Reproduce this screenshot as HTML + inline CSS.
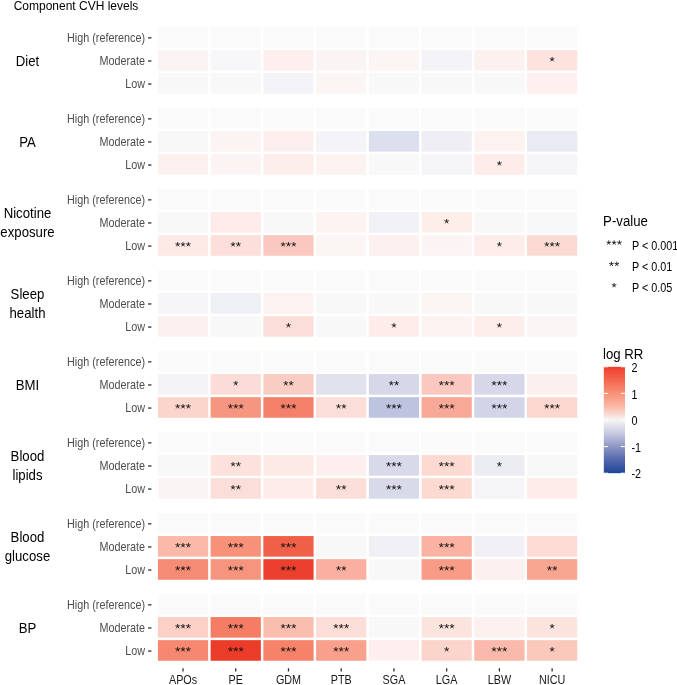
<!DOCTYPE html><html><head><meta charset="utf-8"><style>html,body{margin:0;padding:0;background:#fff;width:677px;height:685px;overflow:hidden}svg{display:block;filter:blur(0.4px)}</style></head><body>
<svg width="677" height="685" viewBox="0 0 677 685" font-family='"Liberation Sans", sans-serif'>
<rect width="677" height="685" fill="#fff"/>
<defs><linearGradient id="cb" x1="0" y1="0" x2="0" y2="1">
<stop offset="0" stop-color="#ef3e2c"/>
<stop offset="0.125" stop-color="#f4674f"/>
<stop offset="0.25" stop-color="#f89077"/>
<stop offset="0.375" stop-color="#fbb9a6"/>
<stop offset="0.5" stop-color="#f7f5f5"/>
<stop offset="0.625" stop-color="#c7c9e1"/>
<stop offset="0.75" stop-color="#8d97c4"/>
<stop offset="0.875" stop-color="#5467ac"/>
<stop offset="1" stop-color="#1c4596"/>
</linearGradient></defs>
<text transform="translate(13.70 9.70) scale(1 1.030)" font-size="12" fill="#000">Component CVH levels</text>
<g>
<rect x="157.90" y="26.95" width="50.23" height="20.60" fill="#fafafa"/>
<rect x="210.63" y="26.95" width="50.23" height="20.60" fill="#fafafa"/>
<rect x="263.36" y="26.95" width="50.23" height="20.60" fill="#fafafa"/>
<rect x="316.09" y="26.95" width="50.23" height="20.60" fill="#fafafa"/>
<rect x="368.82" y="26.95" width="50.23" height="20.60" fill="#fafafa"/>
<rect x="421.55" y="26.95" width="50.23" height="20.60" fill="#fafafa"/>
<rect x="474.28" y="26.95" width="50.23" height="20.60" fill="#fafafa"/>
<rect x="527.01" y="26.95" width="50.23" height="20.60" fill="#fafafa"/>
<rect x="157.90" y="50.05" width="50.23" height="20.60" fill="#fbf3f3"/>
<rect x="210.63" y="50.05" width="50.23" height="20.60" fill="#f7f7f9"/>
<rect x="263.36" y="50.05" width="50.23" height="20.60" fill="#fdefee"/>
<rect x="316.09" y="50.05" width="50.23" height="20.60" fill="#fbf4f4"/>
<rect x="368.82" y="50.05" width="50.23" height="20.60" fill="#fbf5f4"/>
<rect x="421.55" y="50.05" width="50.23" height="20.60" fill="#f4f4f8"/>
<rect x="474.28" y="50.05" width="50.23" height="20.60" fill="#fcf1ef"/>
<rect x="527.01" y="50.05" width="50.23" height="20.60" fill="#fde2de"/>
<rect x="157.90" y="73.15" width="50.23" height="20.60" fill="#f8f8f8"/>
<rect x="210.63" y="73.15" width="50.23" height="20.60" fill="#f8f8f8"/>
<rect x="263.36" y="73.15" width="50.23" height="20.60" fill="#f3f3f8"/>
<rect x="316.09" y="73.15" width="50.23" height="20.60" fill="#fbf6f4"/>
<rect x="368.82" y="73.15" width="50.23" height="20.60" fill="#f8f8f8"/>
<rect x="421.55" y="73.15" width="50.23" height="20.60" fill="#f8f8f8"/>
<rect x="474.28" y="73.15" width="50.23" height="20.60" fill="#f8f8f8"/>
<rect x="527.01" y="73.15" width="50.23" height="20.60" fill="#fdf0ef"/>
<rect x="157.90" y="107.95" width="50.23" height="20.60" fill="#fafafa"/>
<rect x="210.63" y="107.95" width="50.23" height="20.60" fill="#fafafa"/>
<rect x="263.36" y="107.95" width="50.23" height="20.60" fill="#fafafa"/>
<rect x="316.09" y="107.95" width="50.23" height="20.60" fill="#fafafa"/>
<rect x="368.82" y="107.95" width="50.23" height="20.60" fill="#fafafa"/>
<rect x="421.55" y="107.95" width="50.23" height="20.60" fill="#fafafa"/>
<rect x="474.28" y="107.95" width="50.23" height="20.60" fill="#fafafa"/>
<rect x="527.01" y="107.95" width="50.23" height="20.60" fill="#fafafa"/>
<rect x="157.90" y="131.05" width="50.23" height="20.60" fill="#f8f8f8"/>
<rect x="210.63" y="131.05" width="50.23" height="20.60" fill="#fbf4f3"/>
<rect x="263.36" y="131.05" width="50.23" height="20.60" fill="#fdefee"/>
<rect x="316.09" y="131.05" width="50.23" height="20.60" fill="#f3f3f8"/>
<rect x="368.82" y="131.05" width="50.23" height="20.60" fill="#dce0ee"/>
<rect x="421.55" y="131.05" width="50.23" height="20.60" fill="#eeeef4"/>
<rect x="474.28" y="131.05" width="50.23" height="20.60" fill="#fcf3f0"/>
<rect x="527.01" y="131.05" width="50.23" height="20.60" fill="#eaeaf4"/>
<rect x="157.90" y="154.15" width="50.23" height="20.60" fill="#fdf1ef"/>
<rect x="210.63" y="154.15" width="50.23" height="20.60" fill="#fbf4f3"/>
<rect x="263.36" y="154.15" width="50.23" height="20.60" fill="#fdeeec"/>
<rect x="316.09" y="154.15" width="50.23" height="20.60" fill="#fcf3f1"/>
<rect x="368.82" y="154.15" width="50.23" height="20.60" fill="#f8f8f8"/>
<rect x="421.55" y="154.15" width="50.23" height="20.60" fill="#f5f5f7"/>
<rect x="474.28" y="154.15" width="50.23" height="20.60" fill="#fdecea"/>
<rect x="527.01" y="154.15" width="50.23" height="20.60" fill="#f5f5f8"/>
<rect x="157.90" y="188.95" width="50.23" height="20.60" fill="#fafafa"/>
<rect x="210.63" y="188.95" width="50.23" height="20.60" fill="#fafafa"/>
<rect x="263.36" y="188.95" width="50.23" height="20.60" fill="#fafafa"/>
<rect x="316.09" y="188.95" width="50.23" height="20.60" fill="#fafafa"/>
<rect x="368.82" y="188.95" width="50.23" height="20.60" fill="#fafafa"/>
<rect x="421.55" y="188.95" width="50.23" height="20.60" fill="#fafafa"/>
<rect x="474.28" y="188.95" width="50.23" height="20.60" fill="#fafafa"/>
<rect x="527.01" y="188.95" width="50.23" height="20.60" fill="#fafafa"/>
<rect x="157.90" y="212.05" width="50.23" height="20.60" fill="#f8f8f8"/>
<rect x="210.63" y="212.05" width="50.23" height="20.60" fill="#fdeae9"/>
<rect x="263.36" y="212.05" width="50.23" height="20.60" fill="#f8f8f8"/>
<rect x="316.09" y="212.05" width="50.23" height="20.60" fill="#fdf3f1"/>
<rect x="368.82" y="212.05" width="50.23" height="20.60" fill="#f1f1f6"/>
<rect x="421.55" y="212.05" width="50.23" height="20.60" fill="#fdeeea"/>
<rect x="474.28" y="212.05" width="50.23" height="20.60" fill="#f8f8f8"/>
<rect x="527.01" y="212.05" width="50.23" height="20.60" fill="#f8f8f8"/>
<rect x="157.90" y="235.15" width="50.23" height="20.60" fill="#fde9e6"/>
<rect x="210.63" y="235.15" width="50.23" height="20.60" fill="#fcdeda"/>
<rect x="263.36" y="235.15" width="50.23" height="20.60" fill="#fac8be"/>
<rect x="316.09" y="235.15" width="50.23" height="20.60" fill="#fbf5f4"/>
<rect x="368.82" y="235.15" width="50.23" height="20.60" fill="#fcf1ef"/>
<rect x="421.55" y="235.15" width="50.23" height="20.60" fill="#fcf4f4"/>
<rect x="474.28" y="235.15" width="50.23" height="20.60" fill="#fdecea"/>
<rect x="527.01" y="235.15" width="50.23" height="20.60" fill="#fcdad4"/>
<rect x="157.90" y="269.95" width="50.23" height="20.60" fill="#fafafa"/>
<rect x="210.63" y="269.95" width="50.23" height="20.60" fill="#fafafa"/>
<rect x="263.36" y="269.95" width="50.23" height="20.60" fill="#fafafa"/>
<rect x="316.09" y="269.95" width="50.23" height="20.60" fill="#fafafa"/>
<rect x="368.82" y="269.95" width="50.23" height="20.60" fill="#fafafa"/>
<rect x="421.55" y="269.95" width="50.23" height="20.60" fill="#fafafa"/>
<rect x="474.28" y="269.95" width="50.23" height="20.60" fill="#fafafa"/>
<rect x="527.01" y="269.95" width="50.23" height="20.60" fill="#fafafa"/>
<rect x="157.90" y="293.05" width="50.23" height="20.60" fill="#f6f6f8"/>
<rect x="210.63" y="293.05" width="50.23" height="20.60" fill="#efeff6"/>
<rect x="263.36" y="293.05" width="50.23" height="20.60" fill="#fcf3f1"/>
<rect x="316.09" y="293.05" width="50.23" height="20.60" fill="#f8f8f8"/>
<rect x="368.82" y="293.05" width="50.23" height="20.60" fill="#f8f8f8"/>
<rect x="421.55" y="293.05" width="50.23" height="20.60" fill="#fbf5f4"/>
<rect x="474.28" y="293.05" width="50.23" height="20.60" fill="#f9f8f8"/>
<rect x="527.01" y="293.05" width="50.23" height="20.60" fill="#f8f8f8"/>
<rect x="157.90" y="316.15" width="50.23" height="20.60" fill="#fcf1ef"/>
<rect x="210.63" y="316.15" width="50.23" height="20.60" fill="#f8f8f8"/>
<rect x="263.36" y="316.15" width="50.23" height="20.60" fill="#fcded8"/>
<rect x="316.09" y="316.15" width="50.23" height="20.60" fill="#f8f8f8"/>
<rect x="368.82" y="316.15" width="50.23" height="20.60" fill="#fdecea"/>
<rect x="421.55" y="316.15" width="50.23" height="20.60" fill="#fcf3f1"/>
<rect x="474.28" y="316.15" width="50.23" height="20.60" fill="#fdeeec"/>
<rect x="527.01" y="316.15" width="50.23" height="20.60" fill="#faf6f5"/>
<rect x="157.90" y="350.95" width="50.23" height="20.60" fill="#fafafa"/>
<rect x="210.63" y="350.95" width="50.23" height="20.60" fill="#fafafa"/>
<rect x="263.36" y="350.95" width="50.23" height="20.60" fill="#fafafa"/>
<rect x="316.09" y="350.95" width="50.23" height="20.60" fill="#fafafa"/>
<rect x="368.82" y="350.95" width="50.23" height="20.60" fill="#fafafa"/>
<rect x="421.55" y="350.95" width="50.23" height="20.60" fill="#fafafa"/>
<rect x="474.28" y="350.95" width="50.23" height="20.60" fill="#fafafa"/>
<rect x="527.01" y="350.95" width="50.23" height="20.60" fill="#fafafa"/>
<rect x="157.90" y="374.05" width="50.23" height="20.60" fill="#f4f4f7"/>
<rect x="210.63" y="374.05" width="50.23" height="20.60" fill="#fcdcd6"/>
<rect x="263.36" y="374.05" width="50.23" height="20.60" fill="#facdc3"/>
<rect x="316.09" y="374.05" width="50.23" height="20.60" fill="#e0e2ee"/>
<rect x="368.82" y="374.05" width="50.23" height="20.60" fill="#d6d8ea"/>
<rect x="421.55" y="374.05" width="50.23" height="20.60" fill="#fac8be"/>
<rect x="474.28" y="374.05" width="50.23" height="20.60" fill="#d6d8ea"/>
<rect x="527.01" y="374.05" width="50.23" height="20.60" fill="#fcf0ee"/>
<rect x="157.90" y="397.15" width="50.23" height="20.60" fill="#fbd4cb"/>
<rect x="210.63" y="397.15" width="50.23" height="20.60" fill="#f79680"/>
<rect x="263.36" y="397.15" width="50.23" height="20.60" fill="#f58069"/>
<rect x="316.09" y="397.15" width="50.23" height="20.60" fill="#fcded8"/>
<rect x="368.82" y="397.15" width="50.23" height="20.60" fill="#bec3e0"/>
<rect x="421.55" y="397.15" width="50.23" height="20.60" fill="#f8a896"/>
<rect x="474.28" y="397.15" width="50.23" height="20.60" fill="#d2d5e8"/>
<rect x="527.01" y="397.15" width="50.23" height="20.60" fill="#fcd7d0"/>
<rect x="157.90" y="431.95" width="50.23" height="20.60" fill="#fafafa"/>
<rect x="210.63" y="431.95" width="50.23" height="20.60" fill="#fafafa"/>
<rect x="263.36" y="431.95" width="50.23" height="20.60" fill="#fafafa"/>
<rect x="316.09" y="431.95" width="50.23" height="20.60" fill="#fafafa"/>
<rect x="368.82" y="431.95" width="50.23" height="20.60" fill="#fafafa"/>
<rect x="421.55" y="431.95" width="50.23" height="20.60" fill="#fafafa"/>
<rect x="474.28" y="431.95" width="50.23" height="20.60" fill="#fafafa"/>
<rect x="527.01" y="431.95" width="50.23" height="20.60" fill="#fafafa"/>
<rect x="157.90" y="455.05" width="50.23" height="20.60" fill="#f8f8f8"/>
<rect x="210.63" y="455.05" width="50.23" height="20.60" fill="#fce1dc"/>
<rect x="263.36" y="455.05" width="50.23" height="20.60" fill="#fdeae7"/>
<rect x="316.09" y="455.05" width="50.23" height="20.60" fill="#fdefed"/>
<rect x="368.82" y="455.05" width="50.23" height="20.60" fill="#d8daea"/>
<rect x="421.55" y="455.05" width="50.23" height="20.60" fill="#fcdad2"/>
<rect x="474.28" y="455.05" width="50.23" height="20.60" fill="#ececf3"/>
<rect x="527.01" y="455.05" width="50.23" height="20.60" fill="#f8f8f8"/>
<rect x="157.90" y="478.15" width="50.23" height="20.60" fill="#fbf4f4"/>
<rect x="210.63" y="478.15" width="50.23" height="20.60" fill="#fcded8"/>
<rect x="263.36" y="478.15" width="50.23" height="20.60" fill="#fdece9"/>
<rect x="316.09" y="478.15" width="50.23" height="20.60" fill="#fcded8"/>
<rect x="368.82" y="478.15" width="50.23" height="20.60" fill="#d8daea"/>
<rect x="421.55" y="478.15" width="50.23" height="20.60" fill="#fcdad2"/>
<rect x="474.28" y="478.15" width="50.23" height="20.60" fill="#f5f5f7"/>
<rect x="527.01" y="478.15" width="50.23" height="20.60" fill="#fdecea"/>
<rect x="157.90" y="512.95" width="50.23" height="20.60" fill="#fafafa"/>
<rect x="210.63" y="512.95" width="50.23" height="20.60" fill="#fafafa"/>
<rect x="263.36" y="512.95" width="50.23" height="20.60" fill="#fafafa"/>
<rect x="316.09" y="512.95" width="50.23" height="20.60" fill="#fafafa"/>
<rect x="368.82" y="512.95" width="50.23" height="20.60" fill="#fafafa"/>
<rect x="421.55" y="512.95" width="50.23" height="20.60" fill="#fafafa"/>
<rect x="474.28" y="512.95" width="50.23" height="20.60" fill="#fafafa"/>
<rect x="527.01" y="512.95" width="50.23" height="20.60" fill="#fafafa"/>
<rect x="157.90" y="536.05" width="50.23" height="20.60" fill="#fbb9aa"/>
<rect x="210.63" y="536.05" width="50.23" height="20.60" fill="#f7917a"/>
<rect x="263.36" y="536.05" width="50.23" height="20.60" fill="#f05f48"/>
<rect x="316.09" y="536.05" width="50.23" height="20.60" fill="#f9f8f8"/>
<rect x="368.82" y="536.05" width="50.23" height="20.60" fill="#efeff4"/>
<rect x="421.55" y="536.05" width="50.23" height="20.60" fill="#fab2a2"/>
<rect x="474.28" y="536.05" width="50.23" height="20.60" fill="#f1f1f5"/>
<rect x="527.01" y="536.05" width="50.23" height="20.60" fill="#fcdcd4"/>
<rect x="157.90" y="559.15" width="50.23" height="20.60" fill="#f68c76"/>
<rect x="210.63" y="559.15" width="50.23" height="20.60" fill="#f7947e"/>
<rect x="263.36" y="559.15" width="50.23" height="20.60" fill="#ec402e"/>
<rect x="316.09" y="559.15" width="50.23" height="20.60" fill="#faafa0"/>
<rect x="368.82" y="559.15" width="50.23" height="20.60" fill="#f8f8f8"/>
<rect x="421.55" y="559.15" width="50.23" height="20.60" fill="#f89b87"/>
<rect x="474.28" y="559.15" width="50.23" height="20.60" fill="#fcf1ef"/>
<rect x="527.01" y="559.15" width="50.23" height="20.60" fill="#f8a591"/>
<rect x="157.90" y="593.95" width="50.23" height="20.60" fill="#fafafa"/>
<rect x="210.63" y="593.95" width="50.23" height="20.60" fill="#fafafa"/>
<rect x="263.36" y="593.95" width="50.23" height="20.60" fill="#fafafa"/>
<rect x="316.09" y="593.95" width="50.23" height="20.60" fill="#fafafa"/>
<rect x="368.82" y="593.95" width="50.23" height="20.60" fill="#fafafa"/>
<rect x="421.55" y="593.95" width="50.23" height="20.60" fill="#fafafa"/>
<rect x="474.28" y="593.95" width="50.23" height="20.60" fill="#fafafa"/>
<rect x="527.01" y="593.95" width="50.23" height="20.60" fill="#fafafa"/>
<rect x="157.90" y="617.05" width="50.23" height="20.60" fill="#fcd0c6"/>
<rect x="210.63" y="617.05" width="50.23" height="20.60" fill="#f57d64"/>
<rect x="263.36" y="617.05" width="50.23" height="20.60" fill="#fabeaf"/>
<rect x="316.09" y="617.05" width="50.23" height="20.60" fill="#fcded8"/>
<rect x="368.82" y="617.05" width="50.23" height="20.60" fill="#f8f8f8"/>
<rect x="421.55" y="617.05" width="50.23" height="20.60" fill="#fce4de"/>
<rect x="474.28" y="617.05" width="50.23" height="20.60" fill="#fcf1ef"/>
<rect x="527.01" y="617.05" width="50.23" height="20.60" fill="#fce4de"/>
<rect x="157.90" y="640.15" width="50.23" height="20.60" fill="#f68770"/>
<rect x="210.63" y="640.15" width="50.23" height="20.60" fill="#eb3c2a"/>
<rect x="263.36" y="640.15" width="50.23" height="20.60" fill="#f58269"/>
<rect x="316.09" y="640.15" width="50.23" height="20.60" fill="#f8a08c"/>
<rect x="368.82" y="640.15" width="50.23" height="20.60" fill="#fcefee"/>
<rect x="421.55" y="640.15" width="50.23" height="20.60" fill="#fbd4cc"/>
<rect x="474.28" y="640.15" width="50.23" height="20.60" fill="#fab9aa"/>
<rect x="527.01" y="640.15" width="50.23" height="20.60" fill="#fbc8bc"/>
</g>
<g fill="none" stroke="#111" stroke-width="0.88" stroke-linecap="butt">
<path d="M552.12 59.35L552.12 57.00M552.12 59.35L554.36 58.62M552.12 59.35L553.51 61.25M552.12 59.35L550.74 61.25M552.12 59.35L549.89 58.62"/>
<path d="M499.39 163.45L499.39 161.10M499.39 163.45L501.63 162.72M499.39 163.45L500.78 165.35M499.39 163.45L498.01 165.35M499.39 163.45L497.16 162.72"/>
<path d="M446.66 221.35L446.66 219.00M446.66 221.35L448.90 220.62M446.66 221.35L448.05 223.25M446.66 221.35L445.28 223.25M446.66 221.35L444.43 220.62"/>
<path d="M177.67 244.45L177.67 242.10M177.67 244.45L179.90 243.72M177.67 244.45L179.05 246.35M177.67 244.45L176.28 246.35M177.67 244.45L175.43 243.72"/><path d="M183.02 244.45L183.02 242.10M183.02 244.45L185.25 243.72M183.02 244.45L184.40 246.35M183.02 244.45L181.63 246.35M183.02 244.45L180.78 243.72"/><path d="M188.37 244.45L188.37 242.10M188.37 244.45L190.60 243.72M188.37 244.45L189.75 246.35M188.37 244.45L186.98 246.35M188.37 244.45L186.13 243.72"/>
<path d="M233.07 244.45L233.07 242.10M233.07 244.45L235.30 243.72M233.07 244.45L234.45 246.35M233.07 244.45L231.69 246.35M233.07 244.45L230.84 243.72"/><path d="M238.42 244.45L238.42 242.10M238.42 244.45L240.65 243.72M238.42 244.45L239.80 246.35M238.42 244.45L237.04 246.35M238.42 244.45L236.19 243.72"/>
<path d="M283.12 244.45L283.12 242.10M283.12 244.45L285.36 243.72M283.12 244.45L284.51 246.35M283.12 244.45L281.74 246.35M283.12 244.45L280.89 243.72"/><path d="M288.48 244.45L288.48 242.10M288.48 244.45L290.71 243.72M288.48 244.45L289.86 246.35M288.48 244.45L287.09 246.35M288.48 244.45L286.24 243.72"/><path d="M293.82 244.45L293.82 242.10M293.82 244.45L296.06 243.72M293.82 244.45L295.21 246.35M293.82 244.45L292.44 246.35M293.82 244.45L291.59 243.72"/>
<path d="M499.39 244.45L499.39 242.10M499.39 244.45L501.63 243.72M499.39 244.45L500.78 246.35M499.39 244.45L498.01 246.35M499.39 244.45L497.16 243.72"/>
<path d="M546.77 244.45L546.77 242.10M546.77 244.45L549.01 243.72M546.77 244.45L548.16 246.35M546.77 244.45L545.39 246.35M546.77 244.45L544.54 243.72"/><path d="M552.12 244.45L552.12 242.10M552.12 244.45L554.36 243.72M552.12 244.45L553.51 246.35M552.12 244.45L550.74 246.35M552.12 244.45L549.89 243.72"/><path d="M557.48 244.45L557.48 242.10M557.48 244.45L559.71 243.72M557.48 244.45L558.86 246.35M557.48 244.45L556.09 246.35M557.48 244.45L555.24 243.72"/>
<path d="M288.48 325.45L288.48 323.10M288.48 325.45L290.71 324.72M288.48 325.45L289.86 327.35M288.48 325.45L287.09 327.35M288.48 325.45L286.24 324.72"/>
<path d="M393.94 325.45L393.94 323.10M393.94 325.45L396.17 324.72M393.94 325.45L395.32 327.35M393.94 325.45L392.55 327.35M393.94 325.45L391.70 324.72"/>
<path d="M499.39 325.45L499.39 323.10M499.39 325.45L501.63 324.72M499.39 325.45L500.78 327.35M499.39 325.45L498.01 327.35M499.39 325.45L497.16 324.72"/>
<path d="M235.75 383.35L235.75 381.00M235.75 383.35L237.98 382.62M235.75 383.35L237.13 385.25M235.75 383.35L234.36 385.25M235.75 383.35L233.51 382.62"/>
<path d="M285.80 383.35L285.80 381.00M285.80 383.35L288.03 382.62M285.80 383.35L287.18 385.25M285.80 383.35L284.42 385.25M285.80 383.35L283.57 382.62"/><path d="M291.15 383.35L291.15 381.00M291.15 383.35L293.38 382.62M291.15 383.35L292.53 385.25M291.15 383.35L289.77 385.25M291.15 383.35L288.92 382.62"/>
<path d="M391.26 383.35L391.26 381.00M391.26 383.35L393.49 382.62M391.26 383.35L392.64 385.25M391.26 383.35L389.88 385.25M391.26 383.35L389.03 382.62"/><path d="M396.61 383.35L396.61 381.00M396.61 383.35L398.84 382.62M396.61 383.35L397.99 385.25M396.61 383.35L395.23 385.25M396.61 383.35L394.38 382.62"/>
<path d="M441.31 383.35L441.31 381.00M441.31 383.35L443.55 382.62M441.31 383.35L442.70 385.25M441.31 383.35L439.93 385.25M441.31 383.35L439.08 382.62"/><path d="M446.66 383.35L446.66 381.00M446.66 383.35L448.90 382.62M446.66 383.35L448.05 385.25M446.66 383.35L445.28 385.25M446.66 383.35L444.43 382.62"/><path d="M452.01 383.35L452.01 381.00M452.01 383.35L454.25 382.62M452.01 383.35L453.40 385.25M452.01 383.35L450.63 385.25M452.01 383.35L449.78 382.62"/>
<path d="M494.04 383.35L494.04 381.00M494.04 383.35L496.28 382.62M494.04 383.35L495.43 385.25M494.04 383.35L492.66 385.25M494.04 383.35L491.81 382.62"/><path d="M499.39 383.35L499.39 381.00M499.39 383.35L501.63 382.62M499.39 383.35L500.78 385.25M499.39 383.35L498.01 385.25M499.39 383.35L497.16 382.62"/><path d="M504.74 383.35L504.74 381.00M504.74 383.35L506.98 382.62M504.74 383.35L506.13 385.25M504.74 383.35L503.36 385.25M504.74 383.35L502.51 382.62"/>
<path d="M177.67 406.45L177.67 404.10M177.67 406.45L179.90 405.72M177.67 406.45L179.05 408.35M177.67 406.45L176.28 408.35M177.67 406.45L175.43 405.72"/><path d="M183.02 406.45L183.02 404.10M183.02 406.45L185.25 405.72M183.02 406.45L184.40 408.35M183.02 406.45L181.63 408.35M183.02 406.45L180.78 405.72"/><path d="M188.37 406.45L188.37 404.10M188.37 406.45L190.60 405.72M188.37 406.45L189.75 408.35M188.37 406.45L186.98 408.35M188.37 406.45L186.13 405.72"/>
<path d="M230.40 406.45L230.40 404.10M230.40 406.45L232.63 405.72M230.40 406.45L231.78 408.35M230.40 406.45L229.01 408.35M230.40 406.45L228.16 405.72"/><path d="M235.75 406.45L235.75 404.10M235.75 406.45L237.98 405.72M235.75 406.45L237.13 408.35M235.75 406.45L234.36 408.35M235.75 406.45L233.51 405.72"/><path d="M241.09 406.45L241.09 404.10M241.09 406.45L243.33 405.72M241.09 406.45L242.48 408.35M241.09 406.45L239.71 408.35M241.09 406.45L238.86 405.72"/>
<path d="M283.12 406.45L283.12 404.10M283.12 406.45L285.36 405.72M283.12 406.45L284.51 408.35M283.12 406.45L281.74 408.35M283.12 406.45L280.89 405.72"/><path d="M288.48 406.45L288.48 404.10M288.48 406.45L290.71 405.72M288.48 406.45L289.86 408.35M288.48 406.45L287.09 408.35M288.48 406.45L286.24 405.72"/><path d="M293.82 406.45L293.82 404.10M293.82 406.45L296.06 405.72M293.82 406.45L295.21 408.35M293.82 406.45L292.44 408.35M293.82 406.45L291.59 405.72"/>
<path d="M338.53 406.45L338.53 404.10M338.53 406.45L340.76 405.72M338.53 406.45L339.91 408.35M338.53 406.45L337.15 408.35M338.53 406.45L336.30 405.72"/><path d="M343.88 406.45L343.88 404.10M343.88 406.45L346.11 405.72M343.88 406.45L345.26 408.35M343.88 406.45L342.50 408.35M343.88 406.45L341.65 405.72"/>
<path d="M388.58 406.45L388.58 404.10M388.58 406.45L390.82 405.72M388.58 406.45L389.97 408.35M388.58 406.45L387.20 408.35M388.58 406.45L386.35 405.72"/><path d="M393.94 406.45L393.94 404.10M393.94 406.45L396.17 405.72M393.94 406.45L395.32 408.35M393.94 406.45L392.55 408.35M393.94 406.45L391.70 405.72"/><path d="M399.28 406.45L399.28 404.10M399.28 406.45L401.52 405.72M399.28 406.45L400.67 408.35M399.28 406.45L397.90 408.35M399.28 406.45L397.05 405.72"/>
<path d="M441.31 406.45L441.31 404.10M441.31 406.45L443.55 405.72M441.31 406.45L442.70 408.35M441.31 406.45L439.93 408.35M441.31 406.45L439.08 405.72"/><path d="M446.66 406.45L446.66 404.10M446.66 406.45L448.90 405.72M446.66 406.45L448.05 408.35M446.66 406.45L445.28 408.35M446.66 406.45L444.43 405.72"/><path d="M452.01 406.45L452.01 404.10M452.01 406.45L454.25 405.72M452.01 406.45L453.40 408.35M452.01 406.45L450.63 408.35M452.01 406.45L449.78 405.72"/>
<path d="M494.04 406.45L494.04 404.10M494.04 406.45L496.28 405.72M494.04 406.45L495.43 408.35M494.04 406.45L492.66 408.35M494.04 406.45L491.81 405.72"/><path d="M499.39 406.45L499.39 404.10M499.39 406.45L501.63 405.72M499.39 406.45L500.78 408.35M499.39 406.45L498.01 408.35M499.39 406.45L497.16 405.72"/><path d="M504.74 406.45L504.74 404.10M504.74 406.45L506.98 405.72M504.74 406.45L506.13 408.35M504.74 406.45L503.36 408.35M504.74 406.45L502.51 405.72"/>
<path d="M546.77 406.45L546.77 404.10M546.77 406.45L549.01 405.72M546.77 406.45L548.16 408.35M546.77 406.45L545.39 408.35M546.77 406.45L544.54 405.72"/><path d="M552.12 406.45L552.12 404.10M552.12 406.45L554.36 405.72M552.12 406.45L553.51 408.35M552.12 406.45L550.74 408.35M552.12 406.45L549.89 405.72"/><path d="M557.48 406.45L557.48 404.10M557.48 406.45L559.71 405.72M557.48 406.45L558.86 408.35M557.48 406.45L556.09 408.35M557.48 406.45L555.24 405.72"/>
<path d="M233.07 464.35L233.07 462.00M233.07 464.35L235.30 463.62M233.07 464.35L234.45 466.25M233.07 464.35L231.69 466.25M233.07 464.35L230.84 463.62"/><path d="M238.42 464.35L238.42 462.00M238.42 464.35L240.65 463.62M238.42 464.35L239.80 466.25M238.42 464.35L237.04 466.25M238.42 464.35L236.19 463.62"/>
<path d="M388.58 464.35L388.58 462.00M388.58 464.35L390.82 463.62M388.58 464.35L389.97 466.25M388.58 464.35L387.20 466.25M388.58 464.35L386.35 463.62"/><path d="M393.94 464.35L393.94 462.00M393.94 464.35L396.17 463.62M393.94 464.35L395.32 466.25M393.94 464.35L392.55 466.25M393.94 464.35L391.70 463.62"/><path d="M399.28 464.35L399.28 462.00M399.28 464.35L401.52 463.62M399.28 464.35L400.67 466.25M399.28 464.35L397.90 466.25M399.28 464.35L397.05 463.62"/>
<path d="M441.31 464.35L441.31 462.00M441.31 464.35L443.55 463.62M441.31 464.35L442.70 466.25M441.31 464.35L439.93 466.25M441.31 464.35L439.08 463.62"/><path d="M446.66 464.35L446.66 462.00M446.66 464.35L448.90 463.62M446.66 464.35L448.05 466.25M446.66 464.35L445.28 466.25M446.66 464.35L444.43 463.62"/><path d="M452.01 464.35L452.01 462.00M452.01 464.35L454.25 463.62M452.01 464.35L453.40 466.25M452.01 464.35L450.63 466.25M452.01 464.35L449.78 463.62"/>
<path d="M499.39 464.35L499.39 462.00M499.39 464.35L501.63 463.62M499.39 464.35L500.78 466.25M499.39 464.35L498.01 466.25M499.39 464.35L497.16 463.62"/>
<path d="M233.07 487.45L233.07 485.10M233.07 487.45L235.30 486.72M233.07 487.45L234.45 489.35M233.07 487.45L231.69 489.35M233.07 487.45L230.84 486.72"/><path d="M238.42 487.45L238.42 485.10M238.42 487.45L240.65 486.72M238.42 487.45L239.80 489.35M238.42 487.45L237.04 489.35M238.42 487.45L236.19 486.72"/>
<path d="M338.53 487.45L338.53 485.10M338.53 487.45L340.76 486.72M338.53 487.45L339.91 489.35M338.53 487.45L337.15 489.35M338.53 487.45L336.30 486.72"/><path d="M343.88 487.45L343.88 485.10M343.88 487.45L346.11 486.72M343.88 487.45L345.26 489.35M343.88 487.45L342.50 489.35M343.88 487.45L341.65 486.72"/>
<path d="M388.58 487.45L388.58 485.10M388.58 487.45L390.82 486.72M388.58 487.45L389.97 489.35M388.58 487.45L387.20 489.35M388.58 487.45L386.35 486.72"/><path d="M393.94 487.45L393.94 485.10M393.94 487.45L396.17 486.72M393.94 487.45L395.32 489.35M393.94 487.45L392.55 489.35M393.94 487.45L391.70 486.72"/><path d="M399.28 487.45L399.28 485.10M399.28 487.45L401.52 486.72M399.28 487.45L400.67 489.35M399.28 487.45L397.90 489.35M399.28 487.45L397.05 486.72"/>
<path d="M441.31 487.45L441.31 485.10M441.31 487.45L443.55 486.72M441.31 487.45L442.70 489.35M441.31 487.45L439.93 489.35M441.31 487.45L439.08 486.72"/><path d="M446.66 487.45L446.66 485.10M446.66 487.45L448.90 486.72M446.66 487.45L448.05 489.35M446.66 487.45L445.28 489.35M446.66 487.45L444.43 486.72"/><path d="M452.01 487.45L452.01 485.10M452.01 487.45L454.25 486.72M452.01 487.45L453.40 489.35M452.01 487.45L450.63 489.35M452.01 487.45L449.78 486.72"/>
<path d="M177.67 545.35L177.67 543.00M177.67 545.35L179.90 544.62M177.67 545.35L179.05 547.25M177.67 545.35L176.28 547.25M177.67 545.35L175.43 544.62"/><path d="M183.02 545.35L183.02 543.00M183.02 545.35L185.25 544.62M183.02 545.35L184.40 547.25M183.02 545.35L181.63 547.25M183.02 545.35L180.78 544.62"/><path d="M188.37 545.35L188.37 543.00M188.37 545.35L190.60 544.62M188.37 545.35L189.75 547.25M188.37 545.35L186.98 547.25M188.37 545.35L186.13 544.62"/>
<path d="M230.40 545.35L230.40 543.00M230.40 545.35L232.63 544.62M230.40 545.35L231.78 547.25M230.40 545.35L229.01 547.25M230.40 545.35L228.16 544.62"/><path d="M235.75 545.35L235.75 543.00M235.75 545.35L237.98 544.62M235.75 545.35L237.13 547.25M235.75 545.35L234.36 547.25M235.75 545.35L233.51 544.62"/><path d="M241.09 545.35L241.09 543.00M241.09 545.35L243.33 544.62M241.09 545.35L242.48 547.25M241.09 545.35L239.71 547.25M241.09 545.35L238.86 544.62"/>
<path d="M283.12 545.35L283.12 543.00M283.12 545.35L285.36 544.62M283.12 545.35L284.51 547.25M283.12 545.35L281.74 547.25M283.12 545.35L280.89 544.62"/><path d="M288.48 545.35L288.48 543.00M288.48 545.35L290.71 544.62M288.48 545.35L289.86 547.25M288.48 545.35L287.09 547.25M288.48 545.35L286.24 544.62"/><path d="M293.82 545.35L293.82 543.00M293.82 545.35L296.06 544.62M293.82 545.35L295.21 547.25M293.82 545.35L292.44 547.25M293.82 545.35L291.59 544.62"/>
<path d="M441.31 545.35L441.31 543.00M441.31 545.35L443.55 544.62M441.31 545.35L442.70 547.25M441.31 545.35L439.93 547.25M441.31 545.35L439.08 544.62"/><path d="M446.66 545.35L446.66 543.00M446.66 545.35L448.90 544.62M446.66 545.35L448.05 547.25M446.66 545.35L445.28 547.25M446.66 545.35L444.43 544.62"/><path d="M452.01 545.35L452.01 543.00M452.01 545.35L454.25 544.62M452.01 545.35L453.40 547.25M452.01 545.35L450.63 547.25M452.01 545.35L449.78 544.62"/>
<path d="M177.67 568.45L177.67 566.10M177.67 568.45L179.90 567.72M177.67 568.45L179.05 570.35M177.67 568.45L176.28 570.35M177.67 568.45L175.43 567.72"/><path d="M183.02 568.45L183.02 566.10M183.02 568.45L185.25 567.72M183.02 568.45L184.40 570.35M183.02 568.45L181.63 570.35M183.02 568.45L180.78 567.72"/><path d="M188.37 568.45L188.37 566.10M188.37 568.45L190.60 567.72M188.37 568.45L189.75 570.35M188.37 568.45L186.98 570.35M188.37 568.45L186.13 567.72"/>
<path d="M230.40 568.45L230.40 566.10M230.40 568.45L232.63 567.72M230.40 568.45L231.78 570.35M230.40 568.45L229.01 570.35M230.40 568.45L228.16 567.72"/><path d="M235.75 568.45L235.75 566.10M235.75 568.45L237.98 567.72M235.75 568.45L237.13 570.35M235.75 568.45L234.36 570.35M235.75 568.45L233.51 567.72"/><path d="M241.09 568.45L241.09 566.10M241.09 568.45L243.33 567.72M241.09 568.45L242.48 570.35M241.09 568.45L239.71 570.35M241.09 568.45L238.86 567.72"/>
<path d="M283.12 568.45L283.12 566.10M283.12 568.45L285.36 567.72M283.12 568.45L284.51 570.35M283.12 568.45L281.74 570.35M283.12 568.45L280.89 567.72"/><path d="M288.48 568.45L288.48 566.10M288.48 568.45L290.71 567.72M288.48 568.45L289.86 570.35M288.48 568.45L287.09 570.35M288.48 568.45L286.24 567.72"/><path d="M293.82 568.45L293.82 566.10M293.82 568.45L296.06 567.72M293.82 568.45L295.21 570.35M293.82 568.45L292.44 570.35M293.82 568.45L291.59 567.72"/>
<path d="M338.53 568.45L338.53 566.10M338.53 568.45L340.76 567.72M338.53 568.45L339.91 570.35M338.53 568.45L337.15 570.35M338.53 568.45L336.30 567.72"/><path d="M343.88 568.45L343.88 566.10M343.88 568.45L346.11 567.72M343.88 568.45L345.26 570.35M343.88 568.45L342.50 570.35M343.88 568.45L341.65 567.72"/>
<path d="M441.31 568.45L441.31 566.10M441.31 568.45L443.55 567.72M441.31 568.45L442.70 570.35M441.31 568.45L439.93 570.35M441.31 568.45L439.08 567.72"/><path d="M446.66 568.45L446.66 566.10M446.66 568.45L448.90 567.72M446.66 568.45L448.05 570.35M446.66 568.45L445.28 570.35M446.66 568.45L444.43 567.72"/><path d="M452.01 568.45L452.01 566.10M452.01 568.45L454.25 567.72M452.01 568.45L453.40 570.35M452.01 568.45L450.63 570.35M452.01 568.45L449.78 567.72"/>
<path d="M549.45 568.45L549.45 566.10M549.45 568.45L551.68 567.72M549.45 568.45L550.83 570.35M549.45 568.45L548.07 570.35M549.45 568.45L547.22 567.72"/><path d="M554.80 568.45L554.80 566.10M554.80 568.45L557.03 567.72M554.80 568.45L556.18 570.35M554.80 568.45L553.42 570.35M554.80 568.45L552.57 567.72"/>
<path d="M177.67 626.35L177.67 624.00M177.67 626.35L179.90 625.62M177.67 626.35L179.05 628.25M177.67 626.35L176.28 628.25M177.67 626.35L175.43 625.62"/><path d="M183.02 626.35L183.02 624.00M183.02 626.35L185.25 625.62M183.02 626.35L184.40 628.25M183.02 626.35L181.63 628.25M183.02 626.35L180.78 625.62"/><path d="M188.37 626.35L188.37 624.00M188.37 626.35L190.60 625.62M188.37 626.35L189.75 628.25M188.37 626.35L186.98 628.25M188.37 626.35L186.13 625.62"/>
<path d="M230.40 626.35L230.40 624.00M230.40 626.35L232.63 625.62M230.40 626.35L231.78 628.25M230.40 626.35L229.01 628.25M230.40 626.35L228.16 625.62"/><path d="M235.75 626.35L235.75 624.00M235.75 626.35L237.98 625.62M235.75 626.35L237.13 628.25M235.75 626.35L234.36 628.25M235.75 626.35L233.51 625.62"/><path d="M241.09 626.35L241.09 624.00M241.09 626.35L243.33 625.62M241.09 626.35L242.48 628.25M241.09 626.35L239.71 628.25M241.09 626.35L238.86 625.62"/>
<path d="M283.12 626.35L283.12 624.00M283.12 626.35L285.36 625.62M283.12 626.35L284.51 628.25M283.12 626.35L281.74 628.25M283.12 626.35L280.89 625.62"/><path d="M288.48 626.35L288.48 624.00M288.48 626.35L290.71 625.62M288.48 626.35L289.86 628.25M288.48 626.35L287.09 628.25M288.48 626.35L286.24 625.62"/><path d="M293.82 626.35L293.82 624.00M293.82 626.35L296.06 625.62M293.82 626.35L295.21 628.25M293.82 626.35L292.44 628.25M293.82 626.35L291.59 625.62"/>
<path d="M335.86 626.35L335.86 624.00M335.86 626.35L338.09 625.62M335.86 626.35L337.24 628.25M335.86 626.35L334.47 628.25M335.86 626.35L333.62 625.62"/><path d="M341.21 626.35L341.21 624.00M341.21 626.35L343.44 625.62M341.21 626.35L342.59 628.25M341.21 626.35L339.82 628.25M341.21 626.35L338.97 625.62"/><path d="M346.56 626.35L346.56 624.00M346.56 626.35L348.79 625.62M346.56 626.35L347.94 628.25M346.56 626.35L345.17 628.25M346.56 626.35L344.32 625.62"/>
<path d="M441.31 626.35L441.31 624.00M441.31 626.35L443.55 625.62M441.31 626.35L442.70 628.25M441.31 626.35L439.93 628.25M441.31 626.35L439.08 625.62"/><path d="M446.66 626.35L446.66 624.00M446.66 626.35L448.90 625.62M446.66 626.35L448.05 628.25M446.66 626.35L445.28 628.25M446.66 626.35L444.43 625.62"/><path d="M452.01 626.35L452.01 624.00M452.01 626.35L454.25 625.62M452.01 626.35L453.40 628.25M452.01 626.35L450.63 628.25M452.01 626.35L449.78 625.62"/>
<path d="M552.12 626.35L552.12 624.00M552.12 626.35L554.36 625.62M552.12 626.35L553.51 628.25M552.12 626.35L550.74 628.25M552.12 626.35L549.89 625.62"/>
<path d="M177.67 649.45L177.67 647.10M177.67 649.45L179.90 648.72M177.67 649.45L179.05 651.35M177.67 649.45L176.28 651.35M177.67 649.45L175.43 648.72"/><path d="M183.02 649.45L183.02 647.10M183.02 649.45L185.25 648.72M183.02 649.45L184.40 651.35M183.02 649.45L181.63 651.35M183.02 649.45L180.78 648.72"/><path d="M188.37 649.45L188.37 647.10M188.37 649.45L190.60 648.72M188.37 649.45L189.75 651.35M188.37 649.45L186.98 651.35M188.37 649.45L186.13 648.72"/>
<path d="M230.40 649.45L230.40 647.10M230.40 649.45L232.63 648.72M230.40 649.45L231.78 651.35M230.40 649.45L229.01 651.35M230.40 649.45L228.16 648.72"/><path d="M235.75 649.45L235.75 647.10M235.75 649.45L237.98 648.72M235.75 649.45L237.13 651.35M235.75 649.45L234.36 651.35M235.75 649.45L233.51 648.72"/><path d="M241.09 649.45L241.09 647.10M241.09 649.45L243.33 648.72M241.09 649.45L242.48 651.35M241.09 649.45L239.71 651.35M241.09 649.45L238.86 648.72"/>
<path d="M283.12 649.45L283.12 647.10M283.12 649.45L285.36 648.72M283.12 649.45L284.51 651.35M283.12 649.45L281.74 651.35M283.12 649.45L280.89 648.72"/><path d="M288.48 649.45L288.48 647.10M288.48 649.45L290.71 648.72M288.48 649.45L289.86 651.35M288.48 649.45L287.09 651.35M288.48 649.45L286.24 648.72"/><path d="M293.82 649.45L293.82 647.10M293.82 649.45L296.06 648.72M293.82 649.45L295.21 651.35M293.82 649.45L292.44 651.35M293.82 649.45L291.59 648.72"/>
<path d="M335.86 649.45L335.86 647.10M335.86 649.45L338.09 648.72M335.86 649.45L337.24 651.35M335.86 649.45L334.47 651.35M335.86 649.45L333.62 648.72"/><path d="M341.21 649.45L341.21 647.10M341.21 649.45L343.44 648.72M341.21 649.45L342.59 651.35M341.21 649.45L339.82 651.35M341.21 649.45L338.97 648.72"/><path d="M346.56 649.45L346.56 647.10M346.56 649.45L348.79 648.72M346.56 649.45L347.94 651.35M346.56 649.45L345.17 651.35M346.56 649.45L344.32 648.72"/>
<path d="M446.66 649.45L446.66 647.10M446.66 649.45L448.90 648.72M446.66 649.45L448.05 651.35M446.66 649.45L445.28 651.35M446.66 649.45L444.43 648.72"/>
<path d="M494.04 649.45L494.04 647.10M494.04 649.45L496.28 648.72M494.04 649.45L495.43 651.35M494.04 649.45L492.66 651.35M494.04 649.45L491.81 648.72"/><path d="M499.39 649.45L499.39 647.10M499.39 649.45L501.63 648.72M499.39 649.45L500.78 651.35M499.39 649.45L498.01 651.35M499.39 649.45L497.16 648.72"/><path d="M504.74 649.45L504.74 647.10M504.74 649.45L506.98 648.72M504.74 649.45L506.13 651.35M504.74 649.45L503.36 651.35M504.74 649.45L502.51 648.72"/>
<path d="M552.12 649.45L552.12 647.10M552.12 649.45L554.36 648.72M552.12 649.45L553.51 651.35M552.12 649.45L550.74 651.35M552.12 649.45L549.89 648.72"/>
</g>
<g font-size="10.8" fill="#4d4d4d" text-anchor="end">
<text transform="translate(145.00 41.55) scale(1 1.120)">High (reference)</text>
<text transform="translate(145.00 64.65) scale(1 1.120)">Moderate</text>
<text transform="translate(145.00 87.75) scale(1 1.120)">Low</text>
<text transform="translate(145.00 122.55) scale(1 1.120)">High (reference)</text>
<text transform="translate(145.00 145.65) scale(1 1.120)">Moderate</text>
<text transform="translate(145.00 168.75) scale(1 1.120)">Low</text>
<text transform="translate(145.00 203.55) scale(1 1.120)">High (reference)</text>
<text transform="translate(145.00 226.65) scale(1 1.120)">Moderate</text>
<text transform="translate(145.00 249.75) scale(1 1.120)">Low</text>
<text transform="translate(145.00 284.55) scale(1 1.120)">High (reference)</text>
<text transform="translate(145.00 307.65) scale(1 1.120)">Moderate</text>
<text transform="translate(145.00 330.75) scale(1 1.120)">Low</text>
<text transform="translate(145.00 365.55) scale(1 1.120)">High (reference)</text>
<text transform="translate(145.00 388.65) scale(1 1.120)">Moderate</text>
<text transform="translate(145.00 411.75) scale(1 1.120)">Low</text>
<text transform="translate(145.00 446.55) scale(1 1.120)">High (reference)</text>
<text transform="translate(145.00 469.65) scale(1 1.120)">Moderate</text>
<text transform="translate(145.00 492.75) scale(1 1.120)">Low</text>
<text transform="translate(145.00 527.55) scale(1 1.120)">High (reference)</text>
<text transform="translate(145.00 550.65) scale(1 1.120)">Moderate</text>
<text transform="translate(145.00 573.75) scale(1 1.120)">Low</text>
<text transform="translate(145.00 608.55) scale(1 1.120)">High (reference)</text>
<text transform="translate(145.00 631.65) scale(1 1.120)">Moderate</text>
<text transform="translate(145.00 654.75) scale(1 1.120)">Low</text>
</g>
<g stroke="#262626" stroke-width="1.25">
<line x1="148.1" x2="151.4" y1="37.85" y2="37.85"/>
<line x1="148.1" x2="151.4" y1="60.95" y2="60.95"/>
<line x1="148.1" x2="151.4" y1="84.05" y2="84.05"/>
<line x1="148.1" x2="151.4" y1="118.85" y2="118.85"/>
<line x1="148.1" x2="151.4" y1="141.95" y2="141.95"/>
<line x1="148.1" x2="151.4" y1="165.05" y2="165.05"/>
<line x1="148.1" x2="151.4" y1="199.85" y2="199.85"/>
<line x1="148.1" x2="151.4" y1="222.95" y2="222.95"/>
<line x1="148.1" x2="151.4" y1="246.05" y2="246.05"/>
<line x1="148.1" x2="151.4" y1="280.85" y2="280.85"/>
<line x1="148.1" x2="151.4" y1="303.95" y2="303.95"/>
<line x1="148.1" x2="151.4" y1="327.05" y2="327.05"/>
<line x1="148.1" x2="151.4" y1="361.85" y2="361.85"/>
<line x1="148.1" x2="151.4" y1="384.95" y2="384.95"/>
<line x1="148.1" x2="151.4" y1="408.05" y2="408.05"/>
<line x1="148.1" x2="151.4" y1="442.85" y2="442.85"/>
<line x1="148.1" x2="151.4" y1="465.95" y2="465.95"/>
<line x1="148.1" x2="151.4" y1="489.05" y2="489.05"/>
<line x1="148.1" x2="151.4" y1="523.85" y2="523.85"/>
<line x1="148.1" x2="151.4" y1="546.95" y2="546.95"/>
<line x1="148.1" x2="151.4" y1="570.05" y2="570.05"/>
<line x1="148.1" x2="151.4" y1="604.85" y2="604.85"/>
<line x1="148.1" x2="151.4" y1="627.95" y2="627.95"/>
<line x1="148.1" x2="151.4" y1="651.05" y2="651.05"/>
<line x1="183.02" x2="183.02" y1="668.2" y2="671.5"/>
<line x1="235.75" x2="235.75" y1="668.2" y2="671.5"/>
<line x1="288.48" x2="288.48" y1="668.2" y2="671.5"/>
<line x1="341.21" x2="341.21" y1="668.2" y2="671.5"/>
<line x1="393.94" x2="393.94" y1="668.2" y2="671.5"/>
<line x1="446.66" x2="446.66" y1="668.2" y2="671.5"/>
<line x1="499.39" x2="499.39" y1="668.2" y2="671.5"/>
<line x1="552.12" x2="552.12" y1="668.2" y2="671.5"/>
</g>
<g font-size="10.8" fill="#1a1a1a" text-anchor="middle">
<text transform="translate(183.02 683.80) scale(1 1.120)">APOs</text>
<text transform="translate(235.75 683.80) scale(1 1.120)">PE</text>
<text transform="translate(288.48 683.80) scale(1 1.120)">GDM</text>
<text transform="translate(341.21 683.80) scale(1 1.120)">PTB</text>
<text transform="translate(393.94 683.80) scale(1 1.120)">SGA</text>
<text transform="translate(446.66 683.80) scale(1 1.120)">LGA</text>
<text transform="translate(499.39 683.80) scale(1 1.120)">LBW</text>
<text transform="translate(552.12 683.80) scale(1 1.120)">NICU</text>
</g>
<g font-size="13.2" fill="#000" text-anchor="middle">
<text transform="translate(27.50 65.65) scale(1 1.150)">Diet</text>
<text transform="translate(27.50 146.65) scale(1 1.150)">PA</text>
<text transform="translate(27.50 217.50) scale(1 1.150)">Nicotine</text>
<text transform="translate(27.50 236.80) scale(1 1.150)">exposure</text>
<text transform="translate(27.50 298.50) scale(1 1.150)">Sleep</text>
<text transform="translate(27.50 317.80) scale(1 1.150)">health</text>
<text transform="translate(27.50 389.65) scale(1 1.150)">BMI</text>
<text transform="translate(27.50 460.50) scale(1 1.150)">Blood</text>
<text transform="translate(27.50 479.80) scale(1 1.150)">lipids</text>
<text transform="translate(27.50 541.50) scale(1 1.150)">Blood</text>
<text transform="translate(27.50 560.80) scale(1 1.150)">glucose</text>
<text transform="translate(27.50 632.65) scale(1 1.150)">BP</text>
</g>
<text transform="translate(603.10 226.30) scale(1 1.130)" font-size="13.2" fill="#000">P-value</text>
<g fill="none" stroke="#111" stroke-width="0.88" stroke-linecap="butt">
<path d="M608.75 242.70L608.75 240.35M608.75 242.70L610.98 241.97M608.75 242.70L610.13 244.60M608.75 242.70L607.37 244.60M608.75 242.70L606.52 241.97"/><path d="M614.10 242.70L614.10 240.35M614.10 242.70L616.33 241.97M614.10 242.70L615.48 244.60M614.10 242.70L612.72 244.60M614.10 242.70L611.87 241.97"/><path d="M619.45 242.70L619.45 240.35M619.45 242.70L621.68 241.97M619.45 242.70L620.83 244.60M619.45 242.70L618.07 244.60M619.45 242.70L617.22 241.97"/>
<path d="M611.43 264.00L611.43 261.65M611.43 264.00L613.66 263.27M611.43 264.00L612.81 265.90M611.43 264.00L610.04 265.90M611.43 264.00L609.19 263.27"/><path d="M616.78 264.00L616.78 261.65M616.78 264.00L619.01 263.27M616.78 264.00L618.16 265.90M616.78 264.00L615.39 265.90M616.78 264.00L614.54 263.27"/>
<path d="M614.10 285.30L614.10 282.95M614.10 285.30L616.33 284.57M614.10 285.30L615.48 287.20M614.10 285.30L612.72 287.20M614.10 285.30L611.87 284.57"/>
</g>
<g font-size="10.8" fill="#000">
<text transform="translate(631.90 249.70) scale(1 1.120)">P &lt; 0.001</text>
<text transform="translate(631.90 271.00) scale(1 1.120)">P &lt; 0.01</text>
<text transform="translate(631.90 292.30) scale(1 1.120)">P &lt; 0.05</text>
</g>
<text transform="translate(603.00 358.60) scale(1 1.130)" font-size="13.2" fill="#000">log RR</text>
<rect x="603.8" y="366.80" width="21.2" height="106.40" fill="url(#cb)"/>
<g stroke="#fff" stroke-width="1">
<line x1="603.8" x2="608" y1="366.80" y2="366.80"/><line x1="620.8" x2="625" y1="366.80" y2="366.80"/>
<line x1="603.8" x2="608" y1="393.40" y2="393.40"/><line x1="620.8" x2="625" y1="393.40" y2="393.40"/>
<line x1="603.8" x2="608" y1="420.00" y2="420.00"/><line x1="620.8" x2="625" y1="420.00" y2="420.00"/>
<line x1="603.8" x2="608" y1="446.60" y2="446.60"/><line x1="620.8" x2="625" y1="446.60" y2="446.60"/>
<line x1="603.8" x2="608" y1="473.20" y2="473.20"/><line x1="620.8" x2="625" y1="473.20" y2="473.20"/>
</g>
<g font-size="10.8" fill="#000">
<text transform="translate(631.40 371.90) scale(1 1.120)">2</text>
<text transform="translate(631.40 398.50) scale(1 1.120)">1</text>
<text transform="translate(631.40 425.10) scale(1 1.120)">0</text>
<text transform="translate(631.40 451.70) scale(1 1.120)">-1</text>
<text transform="translate(631.40 478.30) scale(1 1.120)">-2</text>
</g>
</svg></body></html>
